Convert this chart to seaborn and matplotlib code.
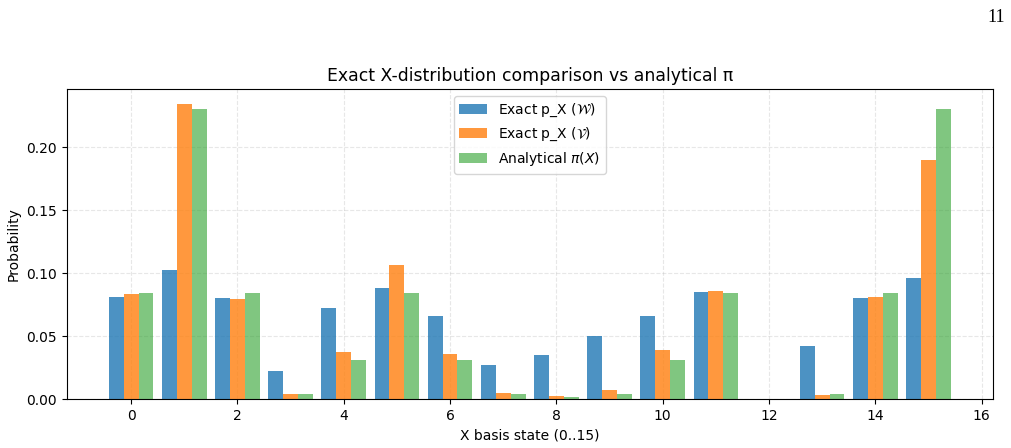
import numpy as np
import pandas as pd
import matplotlib
matplotlib.use('Agg')
import matplotlib.pyplot as plt
from matplotlib.patches import Patch
import seaborn as sns

# dados =======================================================================
states = list(range(16))
p_w = [0.0815, 0.1023, 0.0807, 0.0226, 0.0728, 0.0879, 0.0664, 0.0274,
       0.0353, 0.0505, 0.0664, 0.0855, 0.0, 0.0425, 0.0807, 0.0959]
p_v = [0.0839, 0.2345, 0.0799, 0.0042, 0.0377, 0.1062, 0.0361, 0.0050,
       0.0027, 0.0074, 0.0393, 0.0863, 0.0, 0.0035, 0.0815, 0.1899]
p_pi = [0.0847, 0.2305, 0.0847, 0.0042, 0.0313, 0.0847, 0.0313, 0.0042,
        0.0019, 0.0042, 0.0313, 0.0847, 0.0, 0.0042, 0.0847, 0.2305]

labels = [r'Exact p_X ($\mathcal{W}$)', r'Exact p_X ($\mathcal{V}$)', r'Analytical $\pi(X)$']
colors = ['tab:blue', 'tab:orange', 'tab:green']
alphas = [0.8, 0.8, 0.6]

df = pd.DataFrame({
    'state': states * 3,
    'prob': p_w + p_v + p_pi,
    'serie': [labels[0]] * 16 + [labels[1]] * 16 + [labels[2]] * 16,
})

fig, ax = plt.subplots(figsize=(10.12, 4.48), dpi=100)
sns.barplot(data=df, x='state', y='prob', hue='serie', hue_order=labels,
            palette=colors, native_scale=True, width=0.84, saturation=1,
            errorbar=None, linewidth=0, legend=False, ax=ax)

# transparencia por serie
for cont, a in zip(ax.containers, alphas):
    for p in cont:
        p.set_alpha(a)

handles = [Patch(facecolor=c, alpha=a, label=l) for c, a, l in zip(colors, alphas, labels)]
ax.legend(handles=handles, loc='upper center')

ax.set_xticks(range(0, 17, 2))
ax.set_xlim(-1.21, 16.21)
ax.set_title('Exact X-distribution comparison vs analytical π', fontsize=12.4)
ax.set_xlabel('X basis state (0..15)')
ax.set_ylabel('Probability')
ax.grid(True, linestyle='--', alpha=0.3)
ax.set_axisbelow(True)

# numero da pagina
fig.text(0.993, 0.952, '11', family='Liberation Serif', fontsize=13, ha='right')

fig.subplots_adjust(left=0.066, right=0.981, top=0.801, bottom=0.109)
fig.savefig('out.png', dpi=100)
